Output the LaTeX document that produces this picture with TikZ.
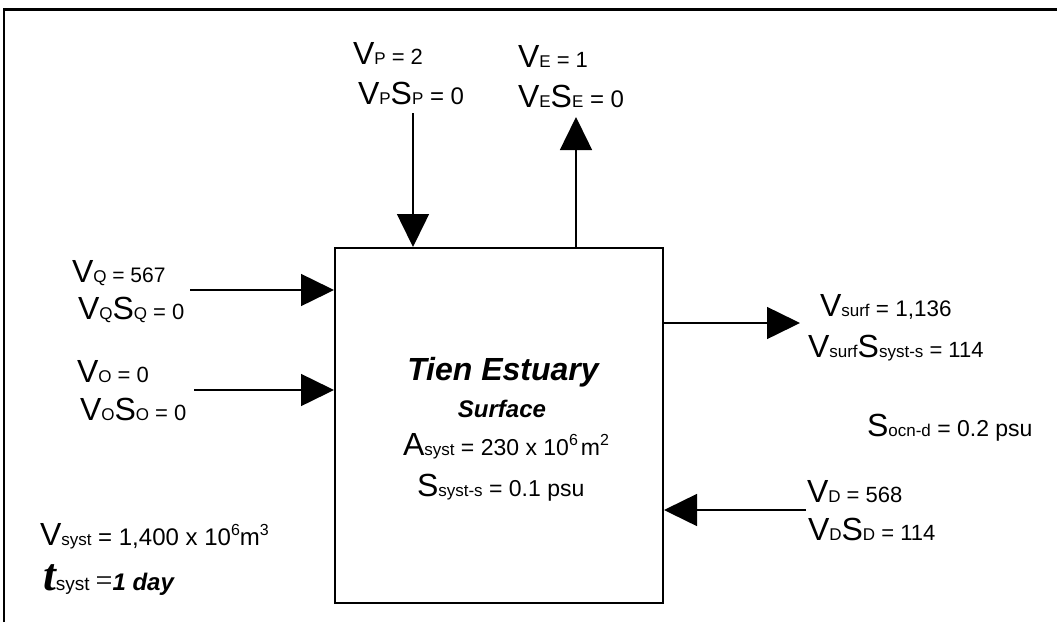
\documentclass[tikz,border=0pt]{standalone}
\usepackage{fontspec}
\setmainfont{Liberation Sans}
\newfontfamily\serifF{Liberation Serif}
\usetikzlibrary{arrows.meta}
\newcommand\FB{\fontsize{32}{36}\selectfont}
\newcommand\FS{\fontsize{17}{19}\selectfont}
\newcommand\FV{\fontsize{22}{26}\selectfont}
\newcommand\FVs{\fontsize{21}{25}\selectfont}
\newcommand\FVc{\fontsize{23}{27}\selectfont}
\newcommand\FW{\fontsize{24}{28}\selectfont}
\newcommand\SupR[1]{\raisebox{10pt}{\fontsize{16}{18}\selectfont #1}}
\begin{document}
\begin{tikzpicture}[x=1pt,y=-1pt,
  lbl/.style={inner sep=0pt, outer sep=0pt, anchor=base west},
  flow/.style={line width=1.5pt, -{Triangle[length=33pt,width=32pt]}},
  frame/.style={line width=2.5pt},
  sysbox/.style={draw, line width=2pt, rectangle, minimum width=328pt, minimum height=355pt, inner sep=0pt}]
\useasboundingbox (0,0) rectangle (1057,622);
\draw[frame] (4,622) -- (4,9.5) -- (1057,9.5);
% system box
\node[sysbox] (box) at (499,425.5) {};
% free ends of the connectors
\coordinate (pP) at (413,113);
\coordinate (pE) at (576,117);
\coordinate (pQ) at (190,290);
\coordinate (pO) at (194,390);
\coordinate (pSurf) at (800,323);
\coordinate (pD) at (806,510);
% connectors
\draw[flow] (pP) -- (box.north -| pP);
\draw[flow] (box.north -| pE) -- (pE);
\draw[flow] (pQ) -- (box.west |- pQ);
\draw[flow] (pO) -- (box.west |- pO);
\draw[flow] (box.east |- pSurf) -- (pSurf);
\draw[flow] (pD) -- (box.east |- pD);
% top labels
\node[lbl] (lP1) at (353,64) {{\FB V}{\FS P}{\FV\ = 2}};
\node[lbl] (lP2) at (358,104) {{\FB V}{\FS P}{\FB S}{\FS P}{\FW\ = 0}};
\node[lbl] (lE1) at (518,67) {{\FB V}{\FS E}{\FV\ = 1}};
\node[lbl] (lE2) at (518,107) {{\FB V}{\FS E}{\FB S}{\FS E}{\FW\ = 0}};
% left labels
\node[lbl] (lQ1) at (72,282) {{\FB V}{\FS Q}{\FVs\ = 567}};
\node[lbl] (lQ2) at (78,319) {{\FB V}{\FS Q}{\FB S}{\FS Q}{\FV\ = 0}};
\node[lbl] (lO1) at (77,382) {{\FB V}{\FS O}{\FV\ = 0}};
\node[lbl] (lO2) at (80,420) {{\FB V}{\FS O}{\FB S}{\FS O}{\FV\ = 0}};
% right labels
\node[lbl] (lS1) at (820,316) {{\FB V}{\FS surf}{\fontsize{22.5}{26}\selectfont\ = 1,136}};
\node[lbl] (lS2) at (808,357) {{\FB V}{\FS surf}{\FB S}{\FS syst-s}{\FV\ = 114}};
\node[lbl] (lOcn) at (867,436) {{\FB S}{\FS ocn-d}{\FVc\ = 0.2 psu}};
\node[lbl] (lD1) at (807,502) {{\FB V}{\FS D}{\FV\ = 568}};
\node[lbl] (lD2) at (808,540) {{\FB V}{\FS D}{\FB S}{\FS D}{\FV\ = 114}};
% centre texts
\node[inner sep=0pt, anchor=base] (tTitle) at (503,380) {\fontsize{32}{36}\selectfont\bfseries\itshape Tien Estuary};
\node[inner sep=0pt, anchor=base] (tSurf) at (502,417) {\fontsize{24}{28}\selectfont\bfseries\itshape Surface};
\node[lbl] (tA) at (403,455) {{\FB A}{\FS syst}{\FVc\ = 230 x 10}\SupR{6}\hspace{3pt}{\FVc m}\SupR{2}};
\node[lbl] (tS) at (417,496) {{\FB S}{\FS syst-s}{\FVc\ = 0.1 psu}};
% bottom-left
\node[lbl] (tV) at (40,545) {{\FB V}{\FS syst}{\FW\ = 1,400 x 10}\SupR{6}{\FW m}\SupR{3}};
\node[lbl] (tT) at (43,590) {{\serifF\bfseries\itshape\fontsize{46}{46}\selectfont t}{\fontsize{19}{21}\selectfont syst}{\FV\ }{\serifF\fontsize{30}{30}\selectfont =}{\fontsize{24}{27}\selectfont\bfseries\itshape 1 day}};
\end{tikzpicture}
\end{document}
